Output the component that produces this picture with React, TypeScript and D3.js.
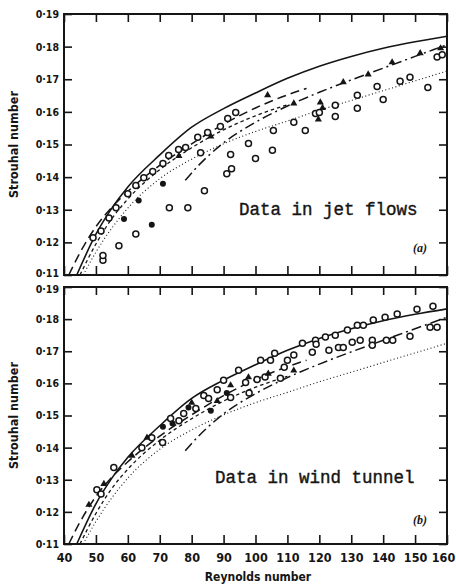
import * as d3 from 'd3';
import { useRef, useEffect } from 'react';

// RENDERING SETUP
const WIDTH = 456;
const HEIGHT = 586;
const LEFT = 64;
const RIGHT = 447;
const INK = '#151515';
const LABEL_FONT = "'DejaVu Sans Condensed', 'Liberation Sans', Arial, sans-serif";
const MONO_FONT = "'Liberation Mono', 'DejaVu Sans Mono', monospace";

// axes
const RE_TICKS = [40, 50, 60, 70, 80, 90, 100, 110, 120, 130, 140, 150, 160];
const ST_TICKS = [0.11, 0.12, 0.13, 0.14, 0.15, 0.16, 0.17, 0.18, 0.19];

// reference curves [Re, St], same in both panels
const SOLID = [[44, 0.11], [50, 0.1225], [55, 0.1305], [60, 0.137], [70, 0.1468], [80, 0.1553], [90, 0.161], [100, 0.1658], [110, 0.1703], [120, 0.174], [130, 0.177], [140, 0.1795], [150, 0.1815], [160, 0.1832]];
const LONG_DASH = [[41.5, 0.11], [45, 0.1168], [50, 0.1248], [55, 0.1308], [60, 0.1356], [70, 0.1436], [80, 0.1502], [90, 0.1562], [100, 0.1612], [110, 0.1652], [116, 0.1672]];
const SHORT_DASH = [[45, 0.11], [50, 0.1195], [55, 0.1273], [60, 0.1333], [70, 0.1423], [80, 0.149], [90, 0.1545], [100, 0.1588], [110, 0.1622]];
const DASH_DOT = [[78, 0.139], [80, 0.1413], [90, 0.1505], [100, 0.1568], [110, 0.1618], [120, 0.166], [130, 0.1698], [140, 0.1734], [150, 0.177], [160, 0.1806]];
const DOTTED = [[46, 0.11], [50, 0.117], [60, 0.1305], [70, 0.1395], [80, 0.1455], [90, 0.1502], [100, 0.154], [110, 0.1572], [120, 0.1605], [130, 0.1635], [140, 0.1665], [150, 0.1695], [160, 0.1725]];

// (a) data in jet flows
const OPEN_A = [[49.1, 0.1214], [51.6, 0.1235], [54.1, 0.1275], [56.3, 0.1306], [60, 0.1349], [62.5, 0.1374], [65, 0.1398], [67.8, 0.1417], [71, 0.1442], [72.8, 0.1466], [75.9, 0.1485], [78.1, 0.1491], [81.9, 0.1522], [85, 0.1537], [89, 0.1555], [91.3, 0.158], [93.8, 0.1598],
  [52.2, 0.1145], [52.2, 0.116], [57.2, 0.119], [62.5, 0.1226], [73, 0.1306], [78.8, 0.1306], [84, 0.1358], [91, 0.141], [92.5, 0.1426], [82.8, 0.1475], [92.2, 0.1469], [97.8, 0.1503], [100, 0.1457], [105.3, 0.1482], [105.6, 0.1543], [112, 0.1568], [115.6, 0.1543],
  [118.8, 0.1595], [120, 0.1598], [125, 0.162], [125, 0.1586], [131.9, 0.1651], [131.9, 0.1611], [138.1, 0.1678], [140, 0.1638], [145.3, 0.1694], [148.4, 0.1706], [154, 0.1675], [156.9, 0.1768], [158.5, 0.1775]];
const FILLED_A = [[58.8, 0.1272], [63.4, 0.1328], [67.5, 0.1254], [71, 0.138]];
const TRI_A = [[103.8, 0.1651], [112, 0.1626], [119.7, 0.1577], [120.3, 0.1629], [121, 0.1612], [127.5, 0.1691], [135.3, 0.1715], [142.8, 0.1752], [151.6, 0.178], [158, 0.1795], [76, 0.1465], [86, 0.1525]];

// (b) data in wind tunnel
const OPEN_B = [[50.3, 0.1269], [51.6, 0.1256], [55.6, 0.1338], [64.4, 0.14], [67.5, 0.1431], [70.9, 0.1416], [73.4, 0.1491], [76, 0.1484], [77.5, 0.1506], [81.3, 0.1522], [83.8, 0.1562], [85.3, 0.1553], [90, 0.161], [94.7, 0.1641], [96.9, 0.1603], [101.6, 0.1672],
  [104.7, 0.1672], [107.8, 0.1616], [106, 0.1694], [110, 0.1672], [112, 0.1688], [114.7, 0.1725], [117.8, 0.1697], [118.8, 0.1734], [121.9, 0.1744], [125, 0.175], [128.8, 0.1766], [131.9, 0.1781], [133.8, 0.1781], [136.9, 0.1797], [140.6, 0.1806], [144.4, 0.1816], [150.6, 0.1831], [155.6, 0.184],
  [119, 0.1722], [123, 0.1703], [126, 0.1712], [127.5, 0.1712], [130.3, 0.1728], [132.8, 0.1734], [136.6, 0.1734], [136.6, 0.1719], [141, 0.1734], [143, 0.1734], [148.4, 0.1747], [154.7, 0.1775], [156.9, 0.1775],
  [88, 0.158], [92.2, 0.1556], [98, 0.157], [100.5, 0.1612], [103, 0.162], [109, 0.165]];
const FILLED_B = [[71, 0.1465], [74, 0.1475], [79, 0.1525], [86, 0.1515], [91, 0.157]];
const TRI_B = [[47.8, 0.1222], [52.5, 0.1287], [61.3, 0.1375], [66, 0.1431], [80, 0.154], [92.2, 0.1594], [97.8, 0.1619], [88, 0.1545], [104, 0.163], [112, 0.164]];

const PANELS = [
  { top: 14, bottom: 275, text: 'Data in jet flows', textX: 239, textY: 215, tag: '(a)', tagY: 252, open: OPEN_A, filled: FILLED_A, tri: TRI_A, xLabels: false },
  { top: 287, bottom: 544, text: 'Data in wind tunnel', textX: 215, textY: 483, tag: '(b)', tagY: 524, open: OPEN_B, filled: FILLED_B, tri: TRI_B, xLabels: true },
];

const CURVES = [
  { data: SOLID, dash: null, width: 1.6 },
  { data: LONG_DASH, dash: '9,5', width: 1.5 },
  { data: SHORT_DASH, dash: '3.5,3', width: 1.3 },
  { data: DASH_DOT, dash: '10,4,2,4', width: 1.5 },
  { data: DOTTED, dash: '1,2.5', width: 1.1 },
];

const fmtSt = (d) => d3.format('.2f')(d).replace('.', '·');

const App = () => {
  const svgRef = useRef(null);

  useEffect(() => {
    const svg = d3.select(svgRef.current);
    svg.selectAll('*').remove();

    const x = d3.scaleLinear().domain([40, 160]).range([LEFT, RIGHT]);

    PANELS.forEach((p, pi) => {
      const y = d3.scaleLinear().domain([0.11, 0.19]).range([p.bottom, p.top]);
      const g = svg.append('g');

      // ticks (inward) on all four sides
      const left = g.append('g').attr('transform', `translate(${LEFT},0)`)
        .call(d3.axisLeft(y).tickValues(ST_TICKS).tickSize(-8).tickPadding(5).tickFormat(fmtSt));
      const right = g.append('g').attr('transform', `translate(${RIGHT},0)`)
        .call(d3.axisRight(y).tickValues(ST_TICKS).tickSize(-8).tickFormat(() => ''));
      const top = g.append('g').attr('transform', `translate(0,${p.top})`)
        .call(d3.axisTop(x).tickValues(RE_TICKS).tickSize(-8).tickFormat(() => ''));
      const bottom = g.append('g').attr('transform', `translate(0,${p.bottom})`)
        .call(d3.axisBottom(x).tickValues(RE_TICKS).tickSize(-9).tickPadding(9)
          .tickFormat(p.xLabels ? d3.format('d') : () => ''));

      [left, right, top, bottom].forEach((ax) => {
        ax.select('.domain').remove();
        ax.selectAll('line').attr('stroke', INK).attr('stroke-width', 1.6);
        ax.selectAll('text')
          .attr('fill', INK)
          .attr('font-family', LABEL_FONT)
          .attr('font-weight', 'bold');
      });
      left.selectAll('text').attr('font-size', 10.5);
      // keep the shared 0·11 / 0·19 labels between the panels apart
      left.selectAll('text').filter((d) => (pi === 0 && d === 0.11) || (pi === 1 && d === 0.19))
        .attr('dy', pi === 0 ? '0.1em' : '0.5em');
      bottom.selectAll('text').attr('font-size', 12.5)
        .filter((d) => d === 160).attr('dx', -4);

      // frame
      g.append('rect')
        .attr('x', LEFT).attr('y', p.top)
        .attr('width', RIGHT - LEFT).attr('height', p.bottom - p.top)
        .attr('fill', 'none').attr('stroke', INK).attr('stroke-width', 2);

      // curves
      const line = d3.line()
        .x((d) => x(d[0]))
        .y((d) => y(d[1]))
        .curve(d3.curveMonotoneX);
      CURVES.forEach((c) => {
        g.append('path')
          .datum(c.data)
          .attr('d', line)
          .attr('fill', 'none')
          .attr('stroke', INK)
          .attr('stroke-width', c.width)
          .attr('stroke-dasharray', c.dash);
      });

      // data points
      g.append('g').selectAll('circle')
        .data(p.open)
        .join('circle')
        .attr('cx', (d) => x(d[0]))
        .attr('cy', (d) => y(d[1]))
        .attr('r', 3)
        .attr('fill', 'white')
        .attr('stroke', INK)
        .attr('stroke-width', 1.5);

      g.append('g').selectAll('circle')
        .data(p.filled)
        .join('circle')
        .attr('cx', (d) => x(d[0]))
        .attr('cy', (d) => y(d[1]))
        .attr('r', 3)
        .attr('fill', INK);

      const tri = d3.symbol(d3.symbolTriangle, 22);
      g.append('g').selectAll('path')
        .data(p.tri)
        .join('path')
        .attr('transform', (d) => `translate(${x(d[0])},${y(d[1])})`)
        .attr('d', tri)
        .attr('fill', INK);

      // annotations
      g.append('text')
        .attr('x', p.textX).attr('y', p.textY)
        .attr('font-family', MONO_FONT)
        .attr('font-size', 17.5)
        .attr('fill', INK)
        .attr('stroke', INK)
        .attr('stroke-width', 0.4)
        .text(p.text);

      g.append('text')
        .attr('x', 420).attr('y', p.tagY)
        .attr('text-anchor', 'middle')
        .attr('font-family', "'Liberation Serif', serif")
        .attr('font-style', 'italic')
        .attr('font-weight', 'bold')
        .attr('font-size', 12)
        .attr('fill', INK)
        .text(p.tag);

      g.append('text')
        .attr('transform', `translate(18,${(p.top + p.bottom) / 2}) rotate(-90)`)
        .attr('text-anchor', 'middle')
        .attr('font-family', LABEL_FONT)
        .attr('font-weight', 'bold')
        .attr('font-size', 12.5)
        .attr('fill', INK)
        .text('Strouhal number');
    });

    svg.append('text')
      .attr('x', 258).attr('y', 581)
      .attr('text-anchor', 'middle')
      .attr('font-family', LABEL_FONT)
      .attr('font-weight', 'bold')
      .attr('font-size', 12)
      .attr('fill', INK)
      .text('Reynolds number');
  }, []);

  return (
    <svg
      ref={svgRef}
      width={WIDTH}
      height={HEIGHT}
      style={{ position: 'absolute', left: 0, top: 0, background: 'white' }}
    />
  );
};

export default App;
